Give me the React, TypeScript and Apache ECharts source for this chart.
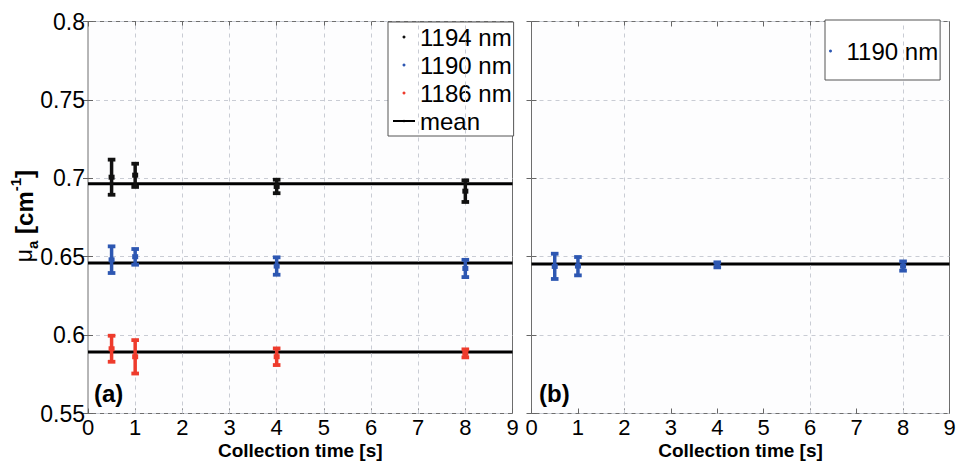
import React, { useEffect, useRef } from "react";
import * as echarts from "echarts";

// ---- data ----
const times = [0.5, 1, 4, 8];

const mu1194 = [0.7007, 0.702, 0.6948, 0.6918];
const lo1194 = [0.6895, 0.6945, 0.6905, 0.6849];
const hi1194 = [0.7119, 0.7093, 0.6991, 0.6987];

const mu1190 = [0.648, 0.65, 0.644, 0.6425];
const lo1190 = [0.6396, 0.6449, 0.6385, 0.637];
const hi1190 = [0.6566, 0.6549, 0.6496, 0.648];

const mu1186 = [0.5913, 0.5862, 0.5862, 0.5884];
const lo1186 = [0.583, 0.5755, 0.5809, 0.5858];
const hi1186 = [0.5996, 0.5968, 0.5915, 0.5909];

const muB1190 = [0.6438, 0.644, 0.6448, 0.644];
const loB1190 = [0.6358, 0.6381, 0.6432, 0.6411];
const hiB1190 = [0.6519, 0.6498, 0.6464, 0.647];

const meanA = [0.6966, 0.646, 0.5892];
const meanB = [0.6453];

const xMin = 0;
const xMax = 9;
const yMin = 0.55;
const yMax = 0.8;
const yStep = 0.05;

const gridXLeft = [1, 2, 3, 4, 5, 6, 7, 8];
const gridXRight = [2, 6, 8];

const seriesNames = ["1194 nm", "1190 nm", "1186 nm"];
const seriesColors = ["#111111", "#2d57b2", "#ee3b2c"];

const FONT = "'Liberation Sans', Arial, Helvetica, sans-serif";

function rows(mu: number[], lo: number[], hi: number[]) {
  return times.map((t, i) => [t, mu[i], lo[i], hi[i]]);
}

function errorBarRender(params: any, api: any) {
  const x = api.value(0);
  const c = api.value(1);
  const lo = api.value(2);
  const hi = api.value(3);
  const pLo = api.coord([x, lo]);
  const pHi = api.coord([x, hi]);
  const pC = api.coord([x, c]);
  const color = api.visual("color");
  const cap = 3.8;
  return {
    type: "group",
    children: [
      { type: "line", shape: { x1: pLo[0], y1: pLo[1], x2: pHi[0], y2: pHi[1] }, style: { stroke: color, lineWidth: 3.5 } },
      { type: "line", shape: { x1: pLo[0] - cap, y1: pLo[1], x2: pLo[0] + cap, y2: pLo[1] }, style: { stroke: color, lineWidth: 3.8 } },
      { type: "line", shape: { x1: pHi[0] - cap, y1: pHi[1], x2: pHi[0] + cap, y2: pHi[1] }, style: { stroke: color, lineWidth: 3.8 } },
      { type: "rect", shape: { x: pC[0] - 3, y: pC[1] - 2.5, width: 6, height: 5 }, style: { fill: color } },
    ],
  };
}

function makeXAxes(gridIndex: number) {
  return [
    {
      type: "value",
      gridIndex,
      min: xMin,
      max: xMax,
      interval: 1,
      position: "bottom",
      axisLine: { show: false },
      axisTick: { show: true, inside: true, length: 5, lineStyle: { color: "#666" } },
      axisLabel: { show: true, fontSize: 22, lineHeight: 22, color: "#000", fontFamily: FONT, margin: 3 },
      splitLine: { show: false },
      name: "Collection time [s]",
      nameLocation: "middle",
      nameGap: 27.8,
      nameMoveOverlap: false,
      nameTextStyle: { fontSize: 19, lineHeight: 18, fontWeight: "bold", color: "#000", fontFamily: FONT },
    },
    {
      type: "value",
      gridIndex,
      min: xMin,
      max: xMax,
      interval: 1,
      position: "top",
      axisLine: { show: false },
      axisTick: { show: true, inside: true, length: 5, lineStyle: { color: "#666" } },
      axisLabel: { show: false },
      splitLine: { show: false },
    },
  ];
}

function makeYAxes(gridIndex: number, labels: boolean) {
  return [
    {
      type: "value",
      gridIndex,
      min: yMin,
      max: yMax,
      interval: yStep,
      position: "left",
      axisLine: { show: false },
      axisTick: { show: true, inside: true, length: 5, lineStyle: { color: "#666" } },
      axisLabel: { show: labels, fontSize: 23, color: "#000", fontFamily: FONT, margin: 3 },
      splitLine: { show: true, lineStyle: { color: "#c9ccd4", type: [4, 4], width: 1 } },
    },
    {
      type: "value",
      gridIndex,
      min: yMin,
      max: yMax,
      interval: yStep,
      position: "right",
      axisLine: { show: false },
      axisTick: { show: true, inside: true, length: 5, lineStyle: { color: "#666" } },
      axisLabel: { show: false },
      splitLine: { show: false },
    },
  ];
}

function vGridMarkLine(xs: number[]) {
  return {
    silent: true,
    symbol: "none",
    label: { show: false },
    lineStyle: { color: "#c9ccd4", type: [4, 4], width: 1 },
    data: xs.map((v) => ({ xAxis: v })),
  };
}

export default function App() {
  const ref = useRef<HTMLDivElement>(null);

  useEffect(() => {
    if (!ref.current) return;
    const chart = echarts.init(ref.current, undefined, { renderer: "svg" });

    const leftData = [rows(mu1194, lo1194, hi1194), rows(mu1190, lo1190, hi1190), rows(mu1186, lo1186, hi1186)];

    const series: any[] = [];
    meanA.forEach((m, i) => {
      series.push({
        type: "line",
        name: "mean",
        xAxisIndex: 0,
        yAxisIndex: 0,
        data: [[xMin, m], [xMax, m]],
        symbol: "none",
        color: "#000",
        lineStyle: { color: "#000", width: 3 },
        z: 3,
        markLine: i === 0 ? vGridMarkLine(gridXLeft) : undefined,
      });
    });
    leftData.forEach((d, i) => {
      series.push({
        type: "custom",
        name: seriesNames[i],
        xAxisIndex: 0,
        yAxisIndex: 0,
        data: d,
        encode: { x: 0, y: [1, 2, 3] },
        itemStyle: { color: seriesColors[i] },
        renderItem: errorBarRender,
        z: 5,
      });
    });
    meanB.forEach((m) => {
      series.push({
        type: "line",
        name: "meanB",
        xAxisIndex: 2,
        yAxisIndex: 2,
        data: [[xMin, m], [xMax, m]],
        symbol: "none",
        lineStyle: { color: "#000", width: 3 },
        z: 3,
        markLine: vGridMarkLine(gridXRight),
      });
    });
    series.push({
      type: "custom",
      name: "1190 nm",
      xAxisIndex: 2,
      yAxisIndex: 2,
      data: rows(muB1190, loB1190, hiB1190),
      encode: { x: 0, y: [1, 2, 3] },
      itemStyle: { color: seriesColors[1] },
      renderItem: errorBarRender,
      z: 5,
    });

    const legendText = { fontSize: 24, color: "#000", fontFamily: FONT, lineHeight: 28 };

    chart.setOption({
      animation: false,
      backgroundColor: "#ffffff",
      grid: [
        { left: 88, top: 21.5, width: 424.5, height: 392, outerBoundsMode: "none", containLabel: false, show: true, backgroundColor: "#fdfdfe", borderColor: "#6e6e6e", borderWidth: 1 },
        { left: 531.5, top: 21.5, width: 418, height: 392, outerBoundsMode: "none", containLabel: false, show: true, backgroundColor: "#fdfdfe", borderColor: "#6e6e6e", borderWidth: 1 },
      ],
      xAxis: [...makeXAxes(0), ...makeXAxes(1)],
      yAxis: [...makeYAxes(0, true), ...makeYAxes(1, false)],
      legend: [
        {
          left: 388,
          top: 22,
          orient: "vertical",
          itemWidth: 22,
          itemHeight: 3,
          itemGap: 0,
          itemTextGap: 3,
          padding: [1, 2, 1, 4],
          backgroundColor: "#ffffff",
          borderColor: "#555",
          borderWidth: 1,
          borderRadius: 0,
          selectedMode: false,
          textStyle: legendText,
          data: [
            { name: "1194 nm", icon: "circle" },
            { name: "1190 nm", icon: "circle" },
            { name: "1186 nm", icon: "circle" },
            { name: "mean" },
          ],
        },
        {
          left: 825,
          top: 20,
          orient: "vertical",
          itemWidth: 22,
          itemHeight: 3,
          itemGap: 0,
          itemTextGap: 3,
          padding: [17, 2, 15, 4],
          backgroundColor: "#ffffff",
          borderColor: "#555",
          borderWidth: 1,
          borderRadius: 0,
          selectedMode: false,
          textStyle: legendText,
          data: [{ name: "1190 nm", icon: "circle" }],
        },
      ],
      graphic: [
        {
          type: "text",
          x: 24,
          y: 216,
          rotation: Math.PI / 2,
          style: {
            text: "{mu|μ}{sub|a}{b| [cm}{sup|-1}{b|]}",
            align: "center",
            verticalAlign: "middle",
            fill: "#000",
            fontFamily: FONT,
            rich: {
              mu: { fontSize: 23, fontFamily: FONT, fill: "#000", lineHeight: 32, verticalAlign: "middle" },
              b: { fontSize: 24, fontWeight: "bold", fontFamily: FONT, fill: "#000", lineHeight: 32, verticalAlign: "middle" },
              sub: { fontSize: 15, fontWeight: "bold", fontFamily: FONT, fill: "#000", verticalAlign: "bottom" },
              sup: { fontSize: 15, fontWeight: "bold", fontFamily: FONT, fill: "#000", verticalAlign: "top" },
            },
          },
        },
        { type: "text", left: 94, top: 381, style: { text: "(a)", fontSize: 24, fontWeight: "bold", fill: "#000", fontFamily: FONT } },
        { type: "text", left: 539, top: 381, style: { text: "(b)", fontSize: 24, fontWeight: "bold", fill: "#000", fontFamily: FONT } },
      ],
      series,
    });

    return () => chart.dispose();
  }, []);

  return <div ref={ref} style={{ position: "absolute", left: 0, top: 0, width: 956, height: 461 }} />;
}
